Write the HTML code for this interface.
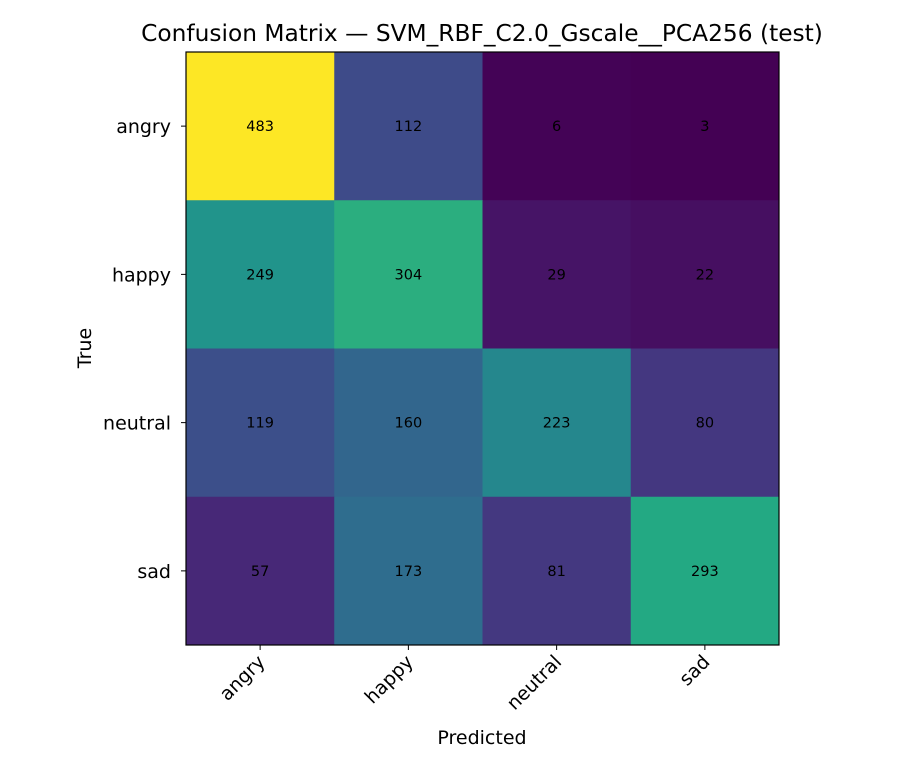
<!DOCTYPE html>
<html><head><meta charset="utf-8"><style>
body{margin:0;background:#fff;}
svg{font-family:"DejaVu Sans","Liberation Sans",sans-serif;}
</style></head><body>
<svg id="c" width="910" height="770">
<text x="482" y="41" font-size="23.3" text-anchor="middle">Confusion Matrix — SVM_RBF_C2.0_Gscale__PCA256 (test)</text>
<text x="482" y="744" font-size="19" text-anchor="middle">Predicted</text>
<text x="91" y="348" font-size="19" text-anchor="middle" transform="rotate(-90 91 348)">True</text>
<g id="cells"></g>
<rect x="186" y="52" width="593" height="593" fill="none" stroke="#000" stroke-width="1.2"/>
<g id="ticks"></g>
</svg>
<script>
const categories = ["angry","happy","neutral","sad"];
const row0 = [483,112,6,3];
const row1 = [249,304,29,22];
const row2 = [119,160,223,80];
const row3 = [57,173,81,293];
const matrix = [row0,row1,row2,row3];

const X0=186, Y0=52, W=593, H=593;
const n=categories.length, cw=W/n, ch=H/n;
function xPos(j){return X0+j*cw;}
function yPos(i){return Y0+i*ch;}
const vir=["#440154","#482475","#414487","#355f8d","#2a788e","#21918c","#22a884","#44bf70","#7ad151","#bddf26","#fde725"];
function hex(h){return [1,3,5].map(k=>parseInt(h.substr(k,2),16));}
function color(t){t=Math.max(0,Math.min(1,t));const p=t*10,i=Math.min(9,Math.floor(p)),f=p-i;
 const a=hex(vir[i]),b=hex(vir[i+1]);return "rgb("+a.map((v,k)=>Math.round(v+(b[k]-v)*f)).join(",")+")";}
const all=matrix.flat(), mn=Math.min(...all), mx=Math.max(...all);
const NS="http://www.w3.org/2000/svg";
const cells=document.getElementById("cells"), ticks=document.getElementById("ticks");
function mk(tag,attrs,parent){const e=document.createElementNS(NS,tag);for(const k in attrs)e.setAttribute(k,attrs[k]);parent.appendChild(e);return e;}
matrix.forEach((row,i)=>row.forEach((v,j)=>{
 const r=mk("rect",{x:xPos(j),y:yPos(i),width:cw+0.5,height:ch+0.5,fill:color((v-mn)/(mx-mn))},cells);
 
 
 const t=mk("text",{x:xPos(j)+cw/2,y:yPos(i)+ch/2+5,"font-size":"14.5","text-anchor":"middle",fill:"#000"},cells);
 t.textContent=v;
 
 
}));
categories.forEach((c,k)=>{
 const cx=xPos(k)+cw/2, cy=yPos(k)+ch/2;
 mk("line",{x1:cx,y1:645,x2:cx,y2:650,stroke:"#000"},ticks);
 const tx=mk("text",{x:cx+6,y:663,"font-size":"19","text-anchor":"end",transform:"rotate(-45 "+(cx+6)+" 663)"},ticks);
 tx.textContent=c;
 
 
 mk("line",{x1:181,y1:cy,x2:186,y2:cy,stroke:"#000"},ticks);
 const ty=mk("text",{x:171,y:cy+7,"font-size":"19","text-anchor":"end"},ticks);
 ty.textContent=c;
 
 
});
</script>
</body></html>
